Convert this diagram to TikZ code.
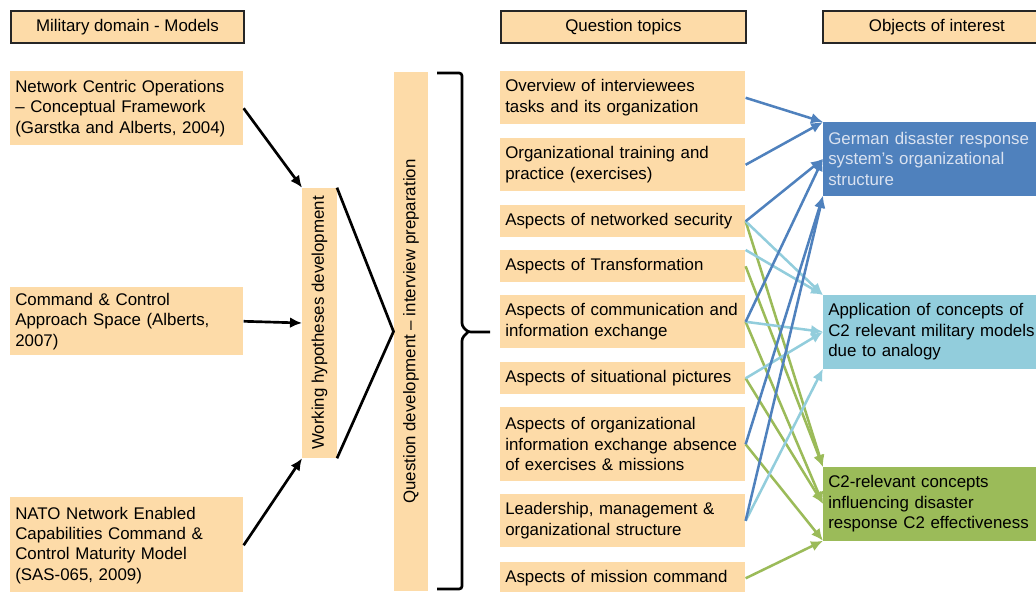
\documentclass[tikz,border=0pt]{standalone}
\usepackage{fontspec}
\setmainfont{Liberation Sans}
\usetikzlibrary{arrows.meta}
\definecolor{peach}{RGB}{253,219,168}
\definecolor{orgblue}{RGB}{79,129,189}
\definecolor{skyblue}{RGB}{146,205,220}
\definecolor{olivegreen}{RGB}{155,187,89}
\definecolor{paletext}{RGB}{218,226,240}
\begin{document}
\begin{tikzpicture}[x=0.025cm,y=-0.025cm,>={Latex[length=3mm,width=2.7mm]},
  every node/.style={font=\fontsize{12}{14.5}\selectfont,inner sep=0pt},
  headbox/.style={draw=black!85,line width=1.3pt,fill=peach,anchor=north west,minimum height=0.8cm},
  modelbox/.style={fill=peach,anchor=north west,inner xsep=0.125cm,text width=5.575cm,align=left},
  topicbox/.style={fill=peach,anchor=north west,inner xsep=0.125cm,text width=5.875cm,align=left},
  objbox/.style={anchor=north west,inner xsep=0.125cm,text width=5.5cm,align=left,minimum height=1.83cm},
  stagebox/.style={fill=peach,rotate=90,minimum height=0.86cm},
  blk/.style={->,line width=1.9pt},
  bluearr/.style={->,line width=1.8pt,orgblue},
  skyarr/.style={->,line width=1.8pt,skyblue},
  greenarr/.style={->,line width=1.8pt,olivegreen}]
\useasboundingbox (0,0) rectangle (1036,591);
\path
(10,10)   node[headbox,minimum width=5.825cm] (hmil) {Military domain - Models}
(500,10)  node[headbox,minimum width=6.125cm] (htop) {Question topics}
(822,10)  node[headbox,minimum width=5.7cm] (hobj) {Objects of interest}
(10,71)   node[modelbox,minimum height=1.85cm] (m1) {Network Centric Operations\\
            -- Conceptual Framework\\ (Garstka and Alberts, 2004)}
(10,287)  node[modelbox,minimum height=1.7cm] (m2) {Command \& Control\\
            Approach Space (Alberts,\\ 2007)}
(10,497)  node[modelbox,minimum height=2.4cm] (m3) {NATO Network Enabled\\
            Capabilities Command \&\\ Control Maturity Model\\ (SAS-065, 2009)}
(319.5,323) node[stagebox,minimum width=6.75cm] (hyp) {Working hypotheses development}
(411,331.5) node[stagebox,minimum width=12.975cm] (qdev) {Question development -- interview preparation};
\path
(500,71)  node[topicbox,minimum height=1.325cm] (q1) {Overview of interviewees\\ tasks and its organization}
(500,138) node[topicbox,minimum height=1.325cm] (q2) {Organizational training and\\ practice (exercises)}
(500,205) node[topicbox,minimum height=0.8cm] (q3) {Aspects of networked security}
(500,250) node[topicbox,minimum height=0.8cm] (q4) {Aspects of Transformation}
(500,295) node[topicbox,minimum height=1.325cm] (q5) {Aspects of communication and\\ information exchange}
(500,362) node[topicbox,minimum height=0.8cm] (q6) {Aspects of situational pictures}
(500,407) node[topicbox,minimum height=1.85cm] (q7) {Aspects of organizational\\
            information exchange absence\\ of exercises \& missions}
(500,494) node[topicbox,minimum height=1.325cm] (q8) {Leadership, management \&\\ organizational structure}
(500,562) node[topicbox,minimum height=0.8cm] (q9) {Aspects of mission command};
\path
(823,122) node[objbox,fill=orgblue,text=paletext] (o1) {German disaster response\\
            system's organizational\\ structure}
(823,295) node[objbox,fill=skyblue] (o2) {Application of concepts of\\
            C2 relevant military models\\ due to analogy}
(823,467) node[objbox,fill=olivegreen] (o3) {C2-relevant concepts\\
            influencing disaster\\ response C2 effectiveness};
\draw[blk] (m1.east)--(hyp.north east);
\draw[blk] (m2.east)--(hyp.north);
\draw[blk] (m3.east)--(hyp.north west);
\draw[line width=1.9pt] (hyp.south east)--(qdev.north)--(hyp.south west);
\coordinate (brtop) at (437,73);
\coordinate (brbot) at (437,589);
\coordinate (brtip) at (490,332);
\draw[line width=1.9pt,rounded corners=2pt] (brtop)--(462,73)--(462,326)--(468,332)--(brtip)
  (468,332)--(462,338)--(462,589)--(brbot);
\draw[greenarr] (q3.east)--(o3.north west);
\draw[greenarr] (q4.east)--(o3.north west);
\draw[greenarr] (q5.east)--(o3.west);
\draw[greenarr] (q6.east)--(o3.west);
\draw[greenarr] (q7.east)--(o3.south west);
\draw[greenarr] (q9.east)--(o3.south west);
\draw[skyarr] (q3.east)--(o2.north west);
\draw[skyarr] (q4.north east)--(o2.north west);
\draw[skyarr] (q5.east)--(o2.west);
\draw[skyarr] (q6.east)--(o2.west);
\draw[skyarr] (q8.east)--(o2.south west);
\draw[bluearr] (q1.east)--(o1.north west);
\draw[bluearr] (q2.east)--(o1.north west);
\draw[bluearr] (q3.east)--(o1.west);
\draw[bluearr] (q5.east)--(o1.west);
\draw[bluearr] (q7.east)--(o1.south west);
\draw[bluearr] (q8.east)--(o1.south west);
\end{tikzpicture}
\end{document}
